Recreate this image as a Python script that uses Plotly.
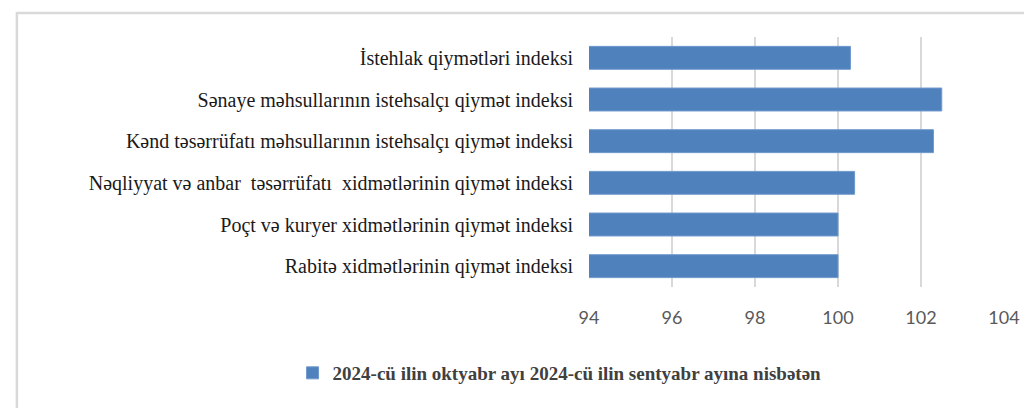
import plotly.graph_objects as go

categories = [
    "İstehlak qiymətləri indeksi",
    "Sənaye məhsullarının istehsalçı qiymət indeksi",
    "Kənd təsərrüfatı məhsullarının istehsalçı qiymət indeksi",
    "Nəqliyyat və anbar\u00a0 təsərrüfatı\u00a0 xidmətlərinin qiymət indeksi",
    "Poçt və kuryer xidmətlərinin qiymət indeksi",
    "Rabitə xidmətlərinin qiymət indeksi",
]
values = [100.3, 102.5, 102.3, 100.4, 100.0, 100.0]
series_name = "2024-cü ilin oktyabr ayı 2024-cü ilin sentyabr ayına nisbətən"
tick_vals = [94, 96, 98, 100, 102, 104]

# page has an 8px body margin, so the figure is drawn 8px smaller
OFF = 8
W, H = 1032 - OFF, 408 - OFF
L, R, T, B = 589 - OFF, 23, 37 - OFF, 121
pw, ph = W - L - R, H - T - B

def px(x):
    return (x - OFF - L) / pw

def py(y):
    return (H - B - (y - OFF)) / ph

fig = go.Figure()
fig.add_trace(go.Bar(
    y=categories, x=values, orientation="h", name=series_name,
    marker=dict(color="#4f81bd", line=dict(color="#6f99cc", width=1)),
    base=0,
))

fig.update_layout(
    width=W, height=H,
    margin=dict(l=L, r=R, t=T, b=B, pad=0),
    paper_bgcolor="white", plot_bgcolor="white",
    bargap=0.45,
    showlegend=True,
    legend=dict(
        orientation="h", x=px(289), y=py(373), xanchor="left", yanchor="middle",
        font=dict(family="Liberation Serif", size=19, color="#404040", weight="bold"),
        bgcolor="rgba(0,0,0,0)",
    ),
    xaxis=dict(
        range=[94, 104], tickvals=tick_vals, showgrid=True, gridcolor="#d9d9d9",
        gridwidth=1.8, zeroline=False, showline=False,
        tickfont=dict(family="Lato", size=18, color="#595959"),
        ticklabelstandoff=18,
    ),
    yaxis=dict(
        autorange="reversed", showgrid=False, showline=False, zeroline=False,
        tickfont=dict(family="Liberation Serif", size=20, color="#1a1a1a"),
        ticklabelstandoff=15,
    ),
    shapes=[dict(
        type="rect", xref="paper", yref="paper",
        x0=px(10), x1=px(1045), y0=py(13), y1=py(425),
        line=dict(color="#d9d9d9", width=2.5), fillcolor="rgba(0,0,0,0)",
        layer="below",
    )],
)

fig.write_html("out.html")
